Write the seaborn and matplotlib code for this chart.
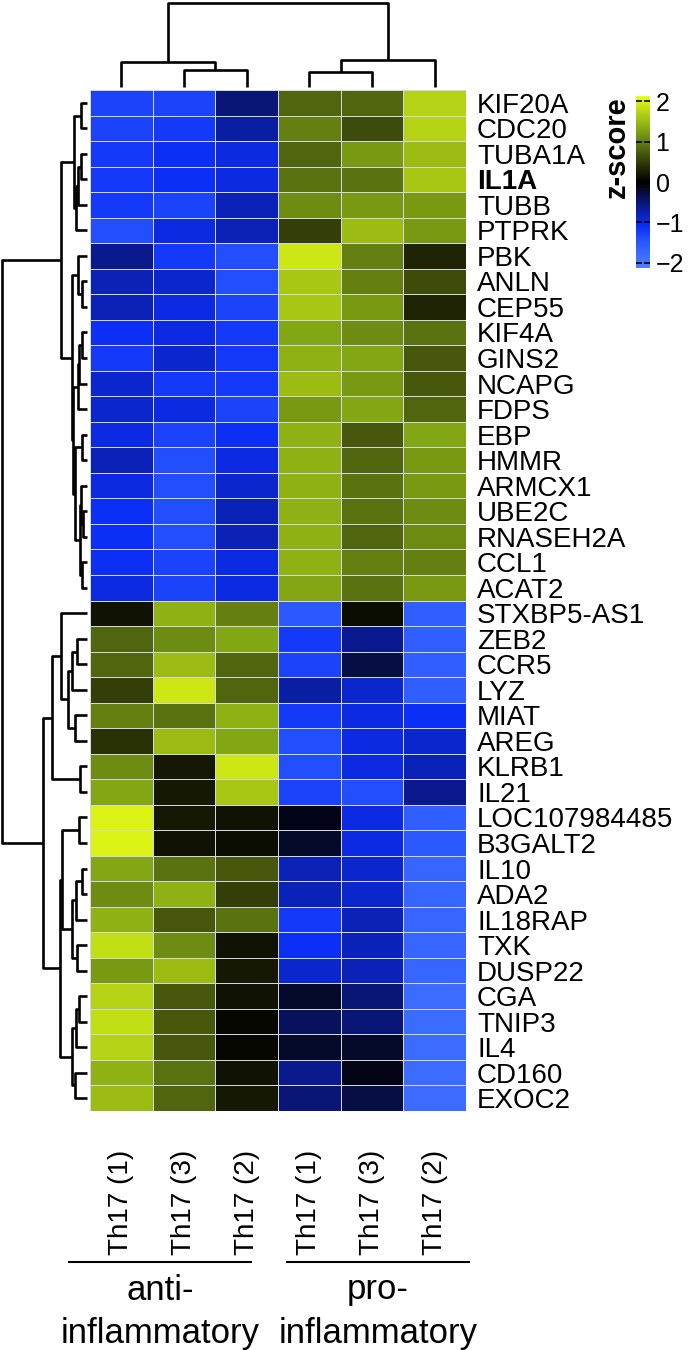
import numpy as np
import pandas as pd
import matplotlib
matplotlib.use("Agg")
import matplotlib.pyplot as plt
import seaborn as sns
from matplotlib.colors import LinearSegmentedColormap
from matplotlib.lines import Line2D

plt.rcParams['font.family'] = ['Liberation Sans', 'DejaVu Sans']

# genes (rows, in plotted order) and samples (columns)
genes = ['KIF20A', 'CDC20', 'TUBA1A', 'IL1A', 'TUBB', 'PTPRK', 'PBK', 'ANLN', 'CEP55',
         'KIF4A', 'GINS2', 'NCAPG', 'FDPS', 'EBP', 'HMMR', 'ARMCX1', 'UBE2C', 'RNASEH2A',
         'CCL1', 'ACAT2', 'STXBP5-AS1', 'ZEB2', 'CCR5', 'LYZ', 'MIAT', 'AREG', 'KLRB1',
         'IL21', 'LOC107984485', 'B3GALT2', 'IL10', 'ADA2', 'IL18RAP', 'TXK', 'DUSP22',
         'CGA', 'TNIP3', 'IL4', 'CD160', 'EXOC2']
samples = ['Th17 (1)', 'Th17 (3)', 'Th17 (2)', 'Th17 (1)', 'Th17 (3)', 'Th17 (2)']
groups = ['anti-\ninflammatory', 'pro-\ninflammatory']

# z-scores (anti 1,3,2 | pro 1,3,2)
zscore = [
    [-1.3, -1.3, -0.5, 0.8, 0.8, 1.7],
    [-1.3, -1.2, -0.7, 1.0, 0.6, 1.7],
    [-1.2, -1.1, -1.0, 0.8, 1.2, 1.5],
    [-1.2, -1.1, -1.0, 0.9, 0.9, 1.6],
    [-1.2, -1.3, -0.8, 1.1, 1.2, 1.2],
    [-1.4, -1.0, -0.8, 0.5, 1.5, 1.2],
    [-0.6, -1.2, -1.4, 1.9, 1.0, 0.3],
    [-0.8, -0.9, -1.4, 1.6, 1.0, 0.6],
    [-0.8, -1.0, -1.3, 1.6, 1.2, 0.3],
    [-1.1, -1.0, -1.2, 1.3, 1.1, 0.9],
    [-1.2, -0.9, -1.2, 1.4, 1.3, 0.7],
    [-0.9, -1.2, -1.2, 1.5, 1.2, 0.7],
    [-0.9, -1.0, -1.3, 1.2, 1.3, 0.8],
    [-1.0, -1.3, -1.1, 1.4, 0.7, 1.3],
    [-0.8, -1.4, -1.0, 1.4, 0.8, 1.2],
    [-1.0, -1.4, -0.9, 1.4, 0.9, 1.2],
    [-1.1, -1.4, -0.8, 1.4, 0.9, 1.1],
    [-1.1, -1.4, -0.8, 1.4, 0.8, 1.1],
    [-1.1, -1.3, -1.0, 1.4, 1.0, 1.0],
    [-1.0, -1.3, -1.0, 1.3, 0.9, 1.2],
    [0.15, 1.4, 1.0, -1.5, 0.1, -1.6],
    [0.8, 1.1, 1.3, -1.2, -0.6, -1.6],
    [0.8, 1.5, 0.8, -1.3, -0.3, -1.6],
    [0.5, 1.9, 0.8, -0.7, -0.9, -1.6],
    [1.0, 0.9, 1.4, -1.2, -1.0, -1.1],
    [0.4, 1.5, 1.3, -1.4, -1.0, -0.9],
    [1.1, 0.2, 1.9, -1.4, -1.0, -0.8],
    [1.3, 0.2, 1.6, -1.3, -1.4, -0.6],
    [2.0, 0.2, 0.15, -0.1, -1.0, -1.6],
    [2.0, 0.15, 0.1, -0.2, -1.0, -1.5],
    [1.3, 0.9, 0.7, -0.8, -0.9, -1.7],
    [1.1, 1.4, 0.5, -0.8, -0.9, -1.7],
    [1.4, 0.7, 0.9, -1.2, -0.8, -1.7],
    [1.8, 1.1, 0.15, -1.1, -0.8, -1.7],
    [1.2, 1.5, 0.2, -0.9, -0.8, -1.7],
    [1.7, 0.7, 0.15, -0.2, -0.5, -1.8],
    [1.8, 0.7, 0.05, -0.4, -0.5, -1.8],
    [1.7, 0.7, 0.05, -0.2, -0.2, -1.8],
    [1.4, 0.9, 0.15, -0.6, -0.1, -1.8],
    [1.5, 0.8, 0.2, -0.5, -0.3, -1.8],
]

# dendrograms as merge lists (a, b, height); ids >= n refer to earlier merges
row_merges = [
    (0, 1, 6), (2, 3, 6), (41, 4, 9), (42, 5, 11), (40, 43, 13),
    (7, 8, 5), (6, 45, 9), (9, 10, 5), (47, 11, 8), (48, 12, 9),
    (13, 14, 5), (16, 17, 4), (15, 51, 6), (18, 19, 5), (52, 53, 7),
    (50, 54, 12), (49, 55, 14), (46, 56, 15.5), (44, 57, 26),
    (21, 22, 10), (59, 23, 15), (24, 25, 12), (60, 61, 19), (20, 62, 26),
    (26, 27, 7), (63, 64, 35), (28, 29, 8), (30, 31, 5), (67, 32, 11),
    (33, 34, 10), (68, 69, 15), (66, 70, 25), (35, 36, 8), (72, 37, 11),
    (38, 39, 12), (73, 74, 15), (71, 75, 27), (65, 76, 44), (58, 77, 85),
]
col_merges = [(1, 2, 17), (0, 6, 25), (3, 4, 15), (8, 5, 27), (7, 9, 84)]

df = pd.DataFrame(zscore, index=genes, columns=range(len(samples)))

vlim = 2.13
nodes = [(-2.13, "#4f80ff"), (-1.5, "#2a57ff"), (-1.1, "#0b2ef5"), (-0.6, "#0a1a8c"),
         (-0.2, "#050a28"), (0.0, "#000000"), (0.3, "#1e2305"), (0.8, "#50640f"),
         (1.3, "#82a514"), (2.13, "#e8ff14")]
cmap = LinearSegmentedColormap.from_list(
    "bky", [((v + vlim) / (2 * vlim), c) for v, c in nodes])

W, H = 689, 1350
fig = plt.figure(figsize=(W / 100, H / 100), dpi=100)


def box(x0, y0, x1, y1):
    # pixel box (top-left origin) -> figure fraction rect
    return [x0 / W, 1 - y1 / H, (x1 - x0) / W, (y1 - y0) / H]


ax_heat = fig.add_axes(box(90, 90, 466, 1111))
ax_row = fig.add_axes(box(3, 90, 87, 1111))
ax_col = fig.add_axes(box(90, 3, 466, 87))
cax = fig.add_axes(box(636, 96, 650, 268))

sns.heatmap(df, ax=ax_heat, cmap=cmap, vmin=-vlim, vmax=vlim, cbar_ax=cax,
            linewidths=0.6, linecolor='#d4d6e0',
            xticklabels=samples, yticklabels=genes)

ax_heat.yaxis.tick_right()
ax_heat.tick_params(axis='y', length=0, pad=8, labelsize=20, rotation=0)
ax_heat.tick_params(axis='x', length=0, pad=28, labelsize=20, rotation=90)
for lab in ax_heat.get_yticklabels():
    if lab.get_text() == 'IL1A':
        lab.set_fontweight('bold')
ax_heat.set_xlabel('')
ax_heat.set_ylabel('')


def draw_dendro(ax, merges, n, orient):
    pos = {i: (i + 0.5, 0.0) for i in range(n)}
    for k, (a, b, h) in enumerate(merges):
        pa, ha = pos[a]
        pb, hb = pos[b]
        if orient == 'top':
            ax.plot([pa, pa, pb, pb], [ha, h, h, hb], color='black', lw=1.9,
                    solid_capstyle='butt', clip_on=False)
        else:
            ax.plot([ha, h, h, hb], [pa, pa, pb, pb], color='black', lw=1.9,
                    solid_capstyle='butt', clip_on=False)
        pos[n + k] = ((pa + pb) / 2, h)


draw_dendro(ax_col, col_merges, len(samples), 'top')
ax_col.set_xlim(0, len(samples))
ax_col.set_ylim(0, 84)
ax_col.axis('off')

draw_dendro(ax_row, row_merges, len(genes), 'left')
ax_row.set_ylim(len(genes), 0)
ax_row.set_xlim(84, 0)
ax_row.axis('off')

cbar = ax_heat.collections[0].colorbar
cbar.outline.set_visible(False)
cbar.set_ticks([-2, -1, 0, 1, 2])
cbar.ax.tick_params(direction='in', colors='black', labelsize=18, length=4,
                    width=1.2, left=True, right=True, pad=4)
for t in cbar.ax.yaxis.get_ticklines():
    t.set_color('white')
cbar.ax.text(-0.4, 1.0, 'z-score', transform=cbar.ax.transAxes, rotation=90,
             ha='right', va='top', fontsize=21, fontweight='bold')

# sample group annotation under the column labels
for xc, name in zip([160, 378], groups):
    fig.add_artist(Line2D([(xc - 91) / W, (xc + 91) / W], [1 - 1262 / H, 1 - 1262 / H],
                          color='black', lw=1.5))
    top, bottom = name.split('\n')
    fig.text(xc / W, 1 - 1290 / H, top, ha='center', va='center', fontsize=25)
    fig.text(xc / W, 1 - 1333 / H, bottom, ha='center', va='center', fontsize=25)

fig.savefig('out.png', dpi=100)
